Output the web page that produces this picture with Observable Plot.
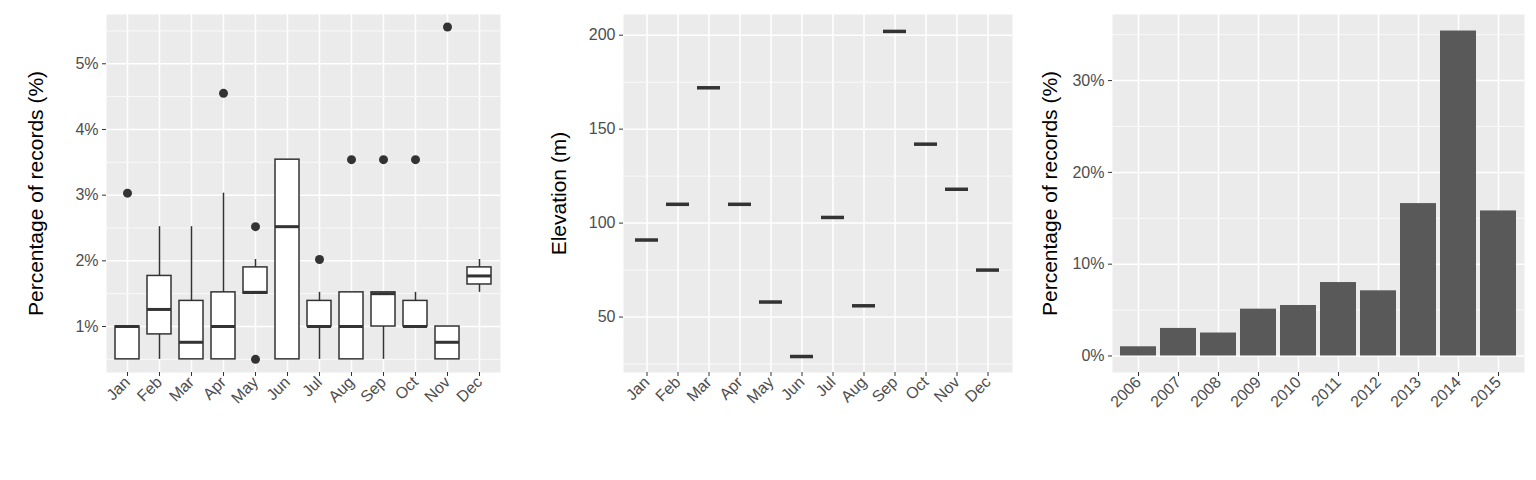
<!DOCTYPE html>
<html>
<head>
<meta charset="utf-8">
<script src="https://cdn.jsdelivr.net/npm/d3@7"></script>
<script src="https://cdn.jsdelivr.net/npm/@observablehq/plot@0.6"></script>
<style>
  body { margin: 0; background: #fff; }
  #row { display: flex; width: 1536px; }
  #row > div { width: 512px; }
  svg [aria-label="y-axis tick label"] text, svg [aria-label="x-axis tick label"] text { font-size: 16px; fill: #4D4D4D; }
  svg [aria-label="y-axis label"] text { font-size: 21px; fill: #000; }
</style>
</head>
<body>
<div id="row"><div id="p1"></div><div id="p2"></div><div id="p3"></div></div>
<script>
const months = ["Jan","Feb","Mar","Apr","May","Jun","Jul","Aug","Sep","Oct","Nov","Dec"];
// boxplot stats per month (% of records)
const lowWhisker  = [0.5, 0.5, 0.5, 0.5, 1.5, 0.5, 0.5, 0.5, 0.5, 1.0, 0.5, 1.52];
const q1          = [0.5, 0.88, 0.5, 0.5, 1.5, 0.5, 1.0, 0.5, 1.0, 1.0, 0.5, 1.64];
const medians     = [1.0, 1.26, 0.76, 1.0, 1.52, 2.52, 1.0, 1.0, 1.5, 1.0, 0.76, 1.77];
const q3          = [1.0, 1.77, 1.39, 1.52, 1.9, 3.54, 1.39, 1.52, 1.52, 1.39, 1.0, 1.9];
const highWhisker = [1.0, 2.52, 2.52, 3.03, 2.02, 3.54, 1.52, 1.52, 1.52, 1.52, 1.0, 2.02];
const outlierMonth = ["Jan","Apr","May","May","Jul","Aug","Sep","Oct","Nov"];
const outlierValue = [3.03, 4.55, 2.52, 0.5, 2.02, 3.54, 3.54, 3.54, 5.56];
// elevation per month (m)
const elevation = [91, 110, 172, 110, 58, 29, 103, 56, 202, 142, 118, 75];
// records per year (%)
const years = ["2006","2007","2008","2009","2010","2011","2012","2013","2014","2015"];
const yearPct = [1.0, 3.0, 2.5, 5.1, 5.5, 8.0, 7.1, 16.6, 35.4, 15.8];

const boxes = months.map((m, i) => ({m, lo: lowWhisker[i], q1: q1[i], med: medians[i], q3: q3[i], hi: highWhisker[i]}));
const outliers = outlierMonth.map((m, i) => ({m, v: outlierValue[i]}));
const elev = months.map((m, i) => ({m, v: elevation[i]}));
const yearData = years.map((y, i) => ({y, v: yearPct[i]}));

const font = "'Liberation Sans', Arial, sans-serif";
const dark = "#333333";

// ggplot-like background, grid and axes
function base(xDomain, major, minor, fmt, label, labelOffset) {
  return [
    Plot.frame({fill: "#EBEBEB", stroke: null}),
    Plot.ruleY(minor, {stroke: "white", strokeWidth: 0.7}),
    Plot.ruleY(major, {stroke: "white", strokeWidth: 1.5}),
    Plot.ruleX(xDomain, {x: d => d, stroke: "white", strokeWidth: 1.5}),
    Plot.axisY(major, {tickSize: 4, tickPadding: 4, stroke: dark,
      tickFormat: fmt, label, labelAnchor: "center", labelArrow: "none", labelOffset}),
    Plot.axisX({tickSize: 4, stroke: dark, tickRotate: -45,
      textAnchor: "end", tickPadding: 3, label: null})
  ];
}

function common(marginLeft) {
  return {width: 512, height: 420, marginTop: 14, marginBottom: 60, marginLeft, marginRight: 12,
    style: {fontFamily: font, fontSize: "16px", overflow: "visible"}};
}

const p1 = Plot.plot({
  ...common(106),
  height: 432,
  marginBottom: 60,
  x: {type: "band", domain: months, paddingInner: 0.25, paddingOuter: 0.225},
  y: {domain: [0.3, 5.75]},
  marks: [
    ...base(months, [1, 2, 3, 4, 5], [0.5, 1.5, 2.5, 3.5, 4.5, 5.5], d => d + "%", "Percentage of records (%)", 78),
    Plot.ruleX(boxes, {x: "m", y1: "lo", y2: "hi", stroke: dark, strokeWidth: 1.5}),
    Plot.barY(boxes, {x: "m", y1: "q1", y2: "q3", fill: "white", stroke: dark, strokeWidth: 1.5}),
    Plot.tickY(boxes, {x: "m", y: "med", stroke: dark, strokeWidth: 3}),
    Plot.dot(outliers, {x: "m", y: "v", r: 4.5, fill: dark, stroke: null})
  ]
});

const p2 = Plot.plot({
  ...common(111),
  height: 432,
  x: {type: "band", domain: months, paddingInner: 0.25, paddingOuter: 0.225},
  y: {domain: [20.5, 211]},
  marks: [
    ...base(months, [50, 100, 150, 200], [25, 75, 125, 175], d => d, "Elevation (m)", 72),
    Plot.tickY(elev, {x: "m", y: "v", stroke: dark, strokeWidth: 3.5})
  ]
});

const p3 = Plot.plot({
  ...common(88),
  height: 432,
  x: {type: "band", domain: years, paddingInner: 0.1, paddingOuter: 0.15},
  y: {domain: [-1.8, 37.2]},
  marks: [
    ...base(years, [0, 10, 20, 30], [5, 15, 25, 35], d => d + "%", "Percentage of records (%)", 70),
    Plot.barY(yearData, {x: "y", y: "v", fill: "#595959"})
  ]
});

document.getElementById("p1").append(p1);
document.getElementById("p2").append(p2);
document.getElementById("p3").append(p3);
</script>
</body>
</html>
